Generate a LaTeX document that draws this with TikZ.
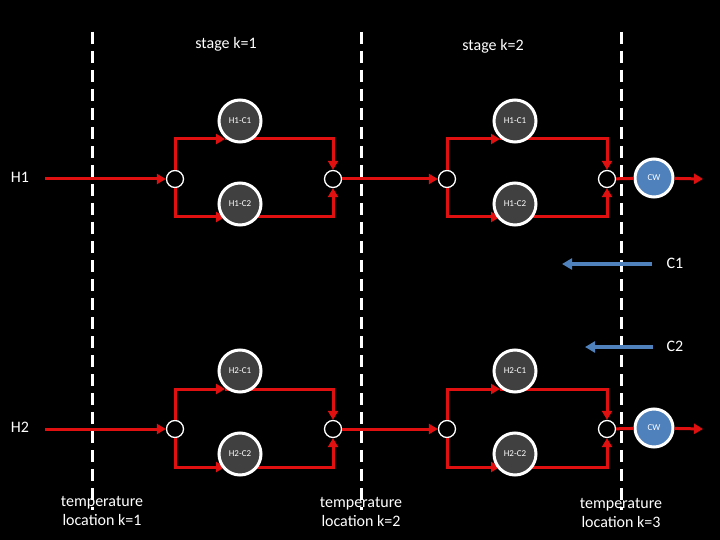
\documentclass[tikz,border=0pt]{standalone}
\usepackage{fontspec}
\setmainfont{Carlito}
\usetikzlibrary{arrows.meta}
\definecolor{hx}{HTML}{404040}
\definecolor{cw}{HTML}{4F81BD}
\definecolor{strm}{HTML}{E01010}
\begin{document}
\begin{tikzpicture}[x=1pt,y=-1pt,
  mix/.style={circle,draw=white,fill=black,line width=1.3pt,minimum size=17pt,inner sep=0},
  hx/.style={circle,draw=white,fill=hx,line width=3pt,minimum size=42pt,inner sep=0,text=white,font=\fontsize{9}{10}\selectfont},
  cwn/.style={circle,draw=white,fill=cw,line width=3pt,minimum size=38pt,inner sep=0,text=white,font=\fontsize{9}{10}\selectfont},
  st/.style={draw=strm,line width=3pt},
  arr/.style={-{Triangle[length=9pt,width=10pt]}},
  div/.style={draw=white,line width=3pt,dash pattern=on 12pt off 7pt},
  lbl/.style={text=white,font=\fontsize{16}{19}\selectfont,align=center},
  cold/.style={draw=cw,line width=4pt,-{Triangle[length=10pt,width=11pt]}}]
\fill[black] (0,0) rectangle (720,540);
\draw[div] (92,32) -- (92,510);
\draw[div] (361,32) -- (361,510);
\draw[div] (621,32) -- (621,510);
\node[lbl] (s1) at (226,44) {stage k=1};
\node[lbl] (s2) at (493,46) {stage k=2};
\node[lbl] (t1) at (102,511) {temperature\\location k=1};
\node[lbl] (t2) at (361,512) {temperature\\location k=2};
\node[lbl] (t3) at (621,513) {temperature\\location k=3};
\foreach \h/\y/\lab in {1/179/H1,2/429/H2}{
  \pgfmathsetmacro{\yt}{\y-40}
  \pgfmathsetmacro{\yb}{\y+38}
  \node[lbl] (L\h) at (20,\y-2) {\lab};
  \coordinate (in\h) at (45,\y);
  \node[mix] (sa\h) at (175,\y) {};
  \node[mix] (ma\h) at (333,\y) {};
  \node[mix] (sb\h) at (447,\y) {};
  \node[mix] (mb\h) at (607,\y) {};
  \coordinate (out\h) at (703,\y);
  \draw[st,arr] (in\h) -- (sa\h);
  \draw[st,arr] (ma\h) -- (sb\h);
  \foreach \s/\m/\xa in {sa/ma/240,sb/mb/515}{
    \draw[st,arr] (\s\h.north) |- (\xa-15,\yt);
    \draw[st,arr] (\xa-15,\yt) -| (\m\h.north);
    \draw[st,arr] (\s\h.south) |- (\xa-15,\yb);
    \draw[st,arr] (\xa-15,\yb) -| (\m\h.south);
  }
  \node[hx] (a1\h) at (240,\y-58) {H\h-C1};
  \node[hx] (a2\h) at (240,\y+25) {H\h-C2};
  \node[hx] (b1\h) at (515,\y-58) {H\h-C1};
  \node[hx] (b2\h) at (515,\y+25) {H\h-C2};
  \node[cwn] (cw\h) at (654,\y-1) {CW};
  \draw[st] (mb\h) -- (cw\h);
  \draw[st,arr] (cw\h) -- (out\h);
}
\coordinate (c1s) at (652,264); \coordinate (c1e) at (562,264);
\coordinate (c2s) at (653,347); \coordinate (c2e) at (585,347);
\draw[cold] (c1s) -- (c1e);
\draw[cold] (c2s) -- (c2e);
\node[lbl] (C1) at (675,263) {C1};
\node[lbl] (C2) at (675,346) {C2};
\end{tikzpicture}
\end{document}
